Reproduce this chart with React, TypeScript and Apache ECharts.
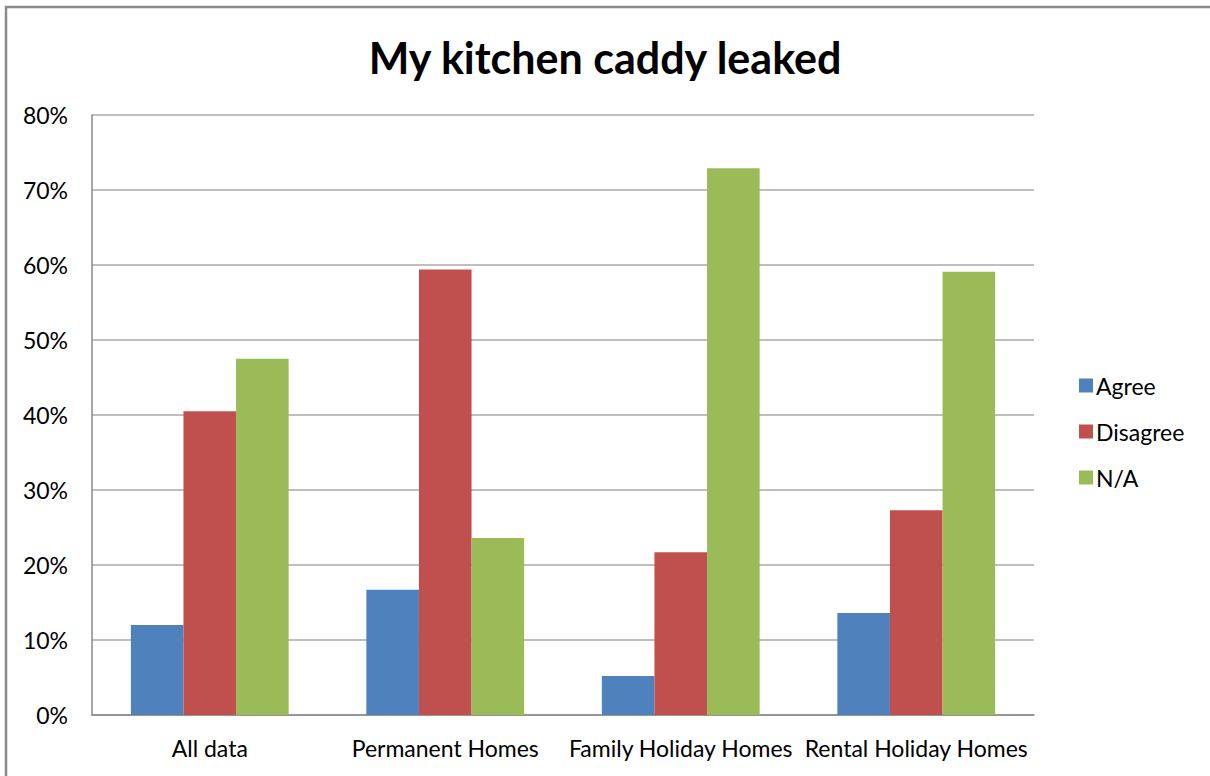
import React, { useEffect, useRef } from "react";
import * as echarts from "echarts";

const categories = ["All data", "Permanent Homes", "Family Holiday Homes", "Rental Holiday Homes"];
const agree = [12.0, 16.7, 5.2, 13.6];
const disagree = [40.5, 59.4, 21.7, 27.3];
const na = [47.5, 23.6, 72.9, 59.1];
const seriesNames = ["Agree", "Disagree", "N/A"];
const colors = ["#4F81BD", "#C0504D", "#9BBB59"];

export default function App() {
  const ref = useRef<HTMLDivElement>(null);
  useEffect(() => {
    if (!ref.current) return;
    const chart = echarts.init(ref.current, null, { renderer: "svg" });
    const font = "Lato, 'Open Sans', sans-serif";
    const data = [agree, disagree, na];
    chart.setOption({
      animation: false,
      backgroundColor: "#fff",
      textStyle: { fontFamily: font },
      title: {
        text: "My kitchen caddy leaked",
        left: "center",
        top: 31,
        textStyle: { fontFamily: font, fontSize: 43, fontWeight: "bold", color: "#000" },
      },
      graphic: [
        {
          type: "rect",
          shape: { x: 6, y: 7, width: 1220, height: 800 },
          style: { fill: "none", stroke: "#8a8a8a", lineWidth: 2.5 },
          silent: true,
        },
      ],
      legend: {
        orient: "vertical",
        left: 1074,
        top: 369,
        itemWidth: 14,
        itemHeight: 14,
        itemGap: 23,
        icon: "rect",
        textStyle: { fontFamily: font, fontSize: 23, color: "#000", padding: [0, 0, 0, -2] },
        data: seriesNames,
      },
      grid: { left: 92, right: 176, top: 115, bottom: 61, containLabel: false },
      xAxis: {
        type: "category",
        data: categories,
        axisLine: { lineStyle: { color: "#888", width: 1.5 } },
        axisTick: { show: false },
        axisLabel: { fontFamily: font, fontSize: 23, color: "#000", margin: 21, interval: 0 },
      },
      yAxis: {
        type: "value",
        min: 0,
        max: 80,
        interval: 10,
        axisLine: { show: true, lineStyle: { color: "#888", width: 1.5 } },
        axisTick: { show: false },
        splitLine: { lineStyle: { color: "#aaa", width: 1.5 } },
        axisLabel: { fontFamily: font, fontSize: 23, color: "#000", margin: 24, formatter: "{value}%" },
      },
      series: seriesNames.map((name, i) => ({
        name,
        type: "bar",
        data: data[i],
        barGap: "0%",
        barCategoryGap: "33%",
        itemStyle: { color: colors[i] },
      })),
    });
    return () => chart.dispose();
  }, []);
  return <div ref={ref} style={{ position: "fixed", left: 0, top: 0, width: 1210, height: 776 }} />;
}
